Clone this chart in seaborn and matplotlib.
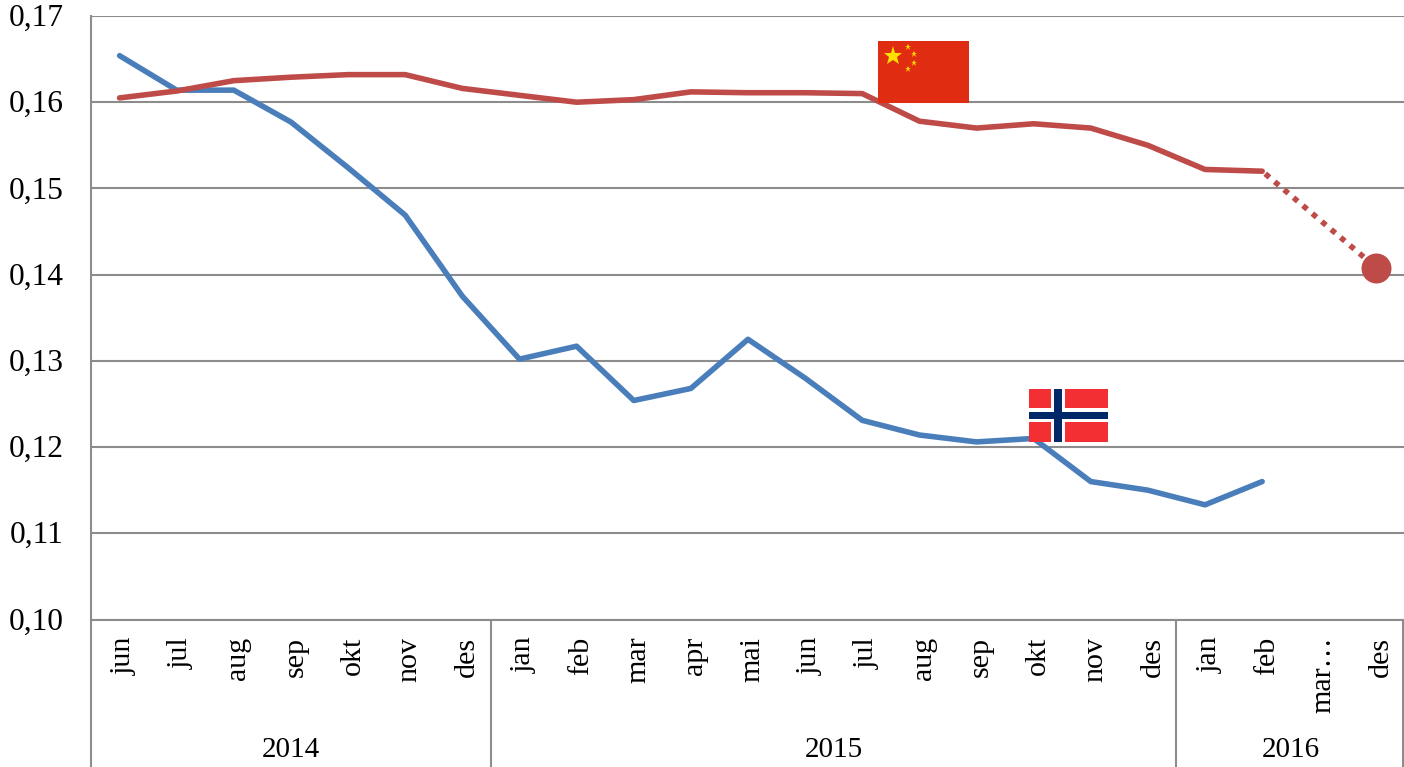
import numpy as np
import pandas as pd
import matplotlib.pyplot as plt
import seaborn as sns
from matplotlib.patches import Rectangle
from matplotlib.transforms import ScaledTranslation

months = ["jun", "jul", "aug", "sep", "okt", "nov", "des",
          "jan", "feb", "mar", "apr", "mai", "jun", "jul", "aug", "sep", "okt", "nov", "des",
          "jan", "feb", "mar…", "des"]
years = ["2014", "2015", "2016"]
year_sizes = [7, 12, 4]
yticks = [0.10, 0.11, 0.12, 0.13, 0.14, 0.15, 0.16, 0.17]

norge = [0.1654, 0.1614, 0.1614, 0.1577, 0.1524, 0.1469, 0.1375, 0.1302, 0.1317, 0.1254, 0.1268,
         0.1325, 0.1280, 0.1231, 0.1214, 0.1206, 0.1210, 0.1160, 0.1150, 0.1133, 0.1160]
kina = [0.1605, 0.1613, 0.1625, 0.1629, 0.1632, 0.1632, 0.1616, 0.1608, 0.1600, 0.1603, 0.1612,
        0.1611, 0.1611, 0.1610, 0.1578, 0.1570, 0.1575, 0.1570, 0.1550, 0.1522, 0.1520]
kina_x = [20, 22]
kina_prognose = [0.1520, 0.1408]

BLUE = "#4A7EBB"
RED = "#BE4B48"
GREY = "#8C8C8C"

sns.set_theme(style="white")
plt.rcParams["font.family"] = ["Liberation Serif", "DejaVu Serif"]

W, H = 1404, 767
fig = plt.figure(figsize=(W / 100, H / 100), dpi=100)
ax = fig.add_axes([91 / W, (H - 619.5) / H, 1314 / W, 603.5 / H])

df_norge = pd.DataFrame({"x": np.arange(len(norge)), "y": norge})
df_kina = pd.DataFrame({"x": np.arange(len(kina)), "y": kina})
df_prognose = pd.DataFrame({"x": kina_x, "y": kina_prognose})

ax.set_axisbelow(True)
ax.yaxis.grid(True, color=GREY, linewidth=1.5)
sns.lineplot(data=df_norge, x="x", y="y", color=BLUE, linewidth=4, ax=ax,
             solid_capstyle="round", solid_joinstyle="round")
sns.lineplot(data=df_kina, x="x", y="y", color=RED, linewidth=4, ax=ax,
             solid_capstyle="round", solid_joinstyle="round")
# prognosen: prikket linje, ring bare paa siste punkt
line = sns.lineplot(data=df_prognose, x="x", y="y", color=RED, linewidth=4, ax=ax)
line.lines[-1].set_linestyle((1.5, (1, 1.22)))
ax.plot(kina_x[-1:], kina_prognose[-1:], "o", color=RED, ms=21.6, mew=0, zorder=5)

ax.set_xlim(-0.5, 22.5)
ax.set_ylim(0.10, 0.17)
ax.set_xlabel("")
ax.set_ylabel("")
ax.set_yticks(yticks)
ax.set_yticklabels([f"{v:.2f}".replace(".", ",") for v in yticks], fontsize=22.6, color="black")
ax.set_xticks(np.arange(len(months)))
ax.set_xticklabels(months, rotation=90, fontsize=21.6, color="black", va="top")
ax.tick_params(axis="y", length=0, pad=19.5)
ax.tick_params(axis="x", length=0, pad=12.5)

# maanedstekstene sitter litt til hoeyre for punktene, y-tekstene litt hoeyere
month_shift = ScaledTranslation(4.5 / 100, 0, fig.dpi_scale_trans)
for label in ax.get_xticklabels():
    label.set_transform(label.get_transform() + month_shift)
ytick_shift = ScaledTranslation(0, 1 / 100, fig.dpi_scale_trans)
for label in ax.get_yticklabels():
    label.set_transform(label.get_transform() + ytick_shift)

for side in ["top", "right"]:
    ax.spines[side].set_visible(False)
for side in ["left", "bottom"]:
    ax.spines[side].set_color(GREY)
    ax.spines[side].set_linewidth(1.5)

# aarsgruppene under aksen
edges = np.cumsum([0] + year_sizes) - 0.5
edges[-1] = 22.47
low = -(H - 619.5) / 603.5
trans = ax.get_xaxis_transform()
ax.vlines(edges, low, 0, transform=trans, color=GREY, linewidth=1.5, clip_on=False)
for name, a, b in zip(years, edges[:-1], np.cumsum(year_sizes) - 0.5):
    ax.text((a + b) / 2, -(750 - 619.5) / 603.5, name, transform=trans, ha="center", va="center",
            fontsize=21, color="black")

# flagg, tegnet i pikselkoordinater oppaa alt annet
top = fig.add_axes([0, 0, 1, 1], facecolor="none")
top.set_xlim(0, W)
top.set_ylim(H, 0)
top.axis("off")

top.add_patch(Rectangle((878, 41), 91, 62, color="#E02C10", lw=0))
top.plot([893], [56], "*", color="#FFE000", ms=14, mew=0)
top.plot([908, 914, 914, 908], [47, 54, 63, 69], "*", color="#FFD800", ms=5, mew=0)

top.add_patch(Rectangle((1029, 389), 79, 53, color="#F42F34", lw=0))
top.add_patch(Rectangle((1051, 389), 14, 53, color="white", lw=0))
top.add_patch(Rectangle((1029, 408), 79, 14, color="white", lw=0))
top.add_patch(Rectangle((1054, 389), 7.5, 53, color="#002868", lw=0))
top.add_patch(Rectangle((1029, 411.5), 79, 7.5, color="#002868", lw=0))

fig.savefig("out.png", dpi=100)
